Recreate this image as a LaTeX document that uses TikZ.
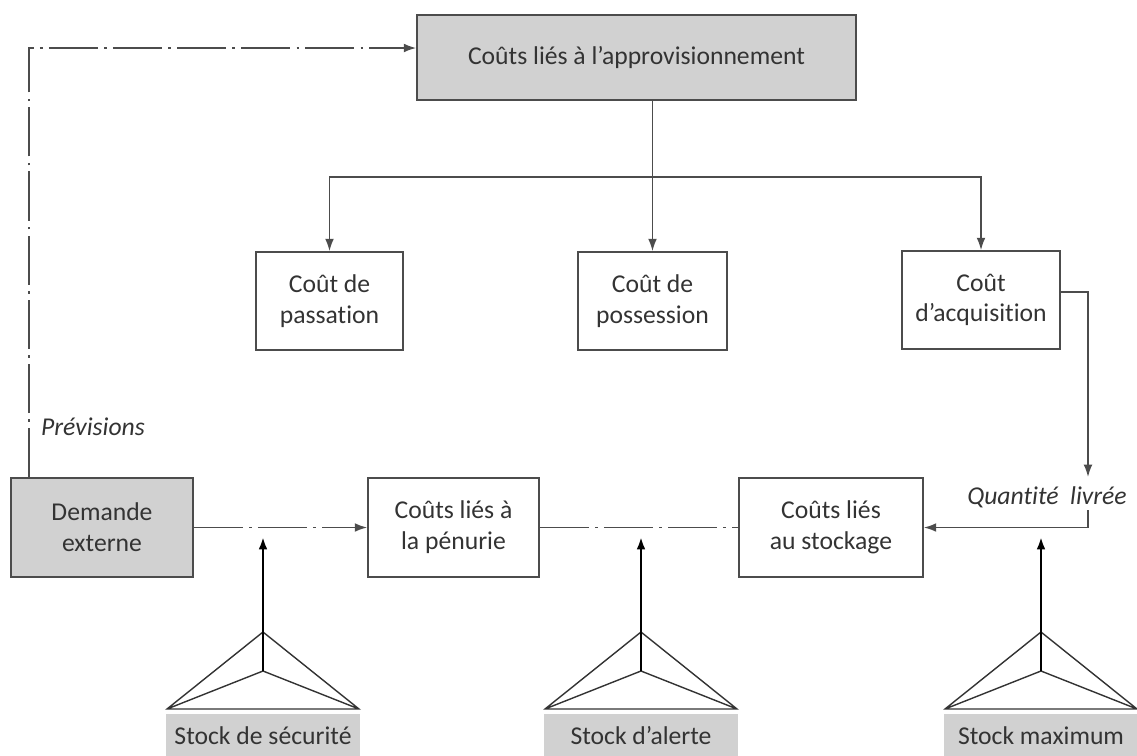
\documentclass[tikz,border=0pt]{standalone}
\usepackage{fontspec}
\setmainfont[Ligatures={TeX,NoCommon}]{Carlito}
\usetikzlibrary{arrows.meta}
\definecolor{linegray}{rgb}{0.3,0.3,0.3}
\definecolor{boxgray}{rgb}{0.82,0.82,0.82}
\definecolor{textgray}{rgb}{0.2,0.2,0.2}

\begin{document}
\begin{tikzpicture}[x=0.02cm,y=-0.02cm,>={Latex[length=7pt,width=5pt]},
  font=\fontsize{14.6}{17.5}\selectfont,
  box/.style={draw=linegray,line width=1pt,align=center,text=textgray,
    minimum height=1.96cm,inner sep=2pt},
  shaded/.style={box,fill=boxgray},
  tag/.style={fill=boxgray,text=textgray,minimum width=3.9cm,minimum height=0.88cm,inner sep=2pt},
  link/.style={draw=linegray,line width=0.9pt},
  dashflow/.style={link,dash pattern=on 28pt off 3.5pt on 1.5pt off 3.5pt},
  tri/.style={draw=black!80,line width=0.8pt,line join=miter},
  stockarrow/.style={draw=black,line width=1.4pt}]
\useasboundingbox (0,0) rectangle (1137,755);

% boxes
\node[shaded,minimum width=8.78cm,minimum height=1.7cm] (appro) at (636.5,57.5)
  {Coûts liés à l’approvisionnement};
\node[box,minimum width=2.94cm] (pass) at (329.5,301) {Coût de\\passation};
\node[box,minimum width=2.98cm] (poss) at (652.5,301) {Coût de\\possession};
\node[box,minimum width=3.16cm] (acq) at (981,300) {Coût\\d’acquisition};
\node[shaded,minimum width=3.64cm,minimum height=1.98cm] (dem) at (102,527.5)
  {Demande\\externe};
\node[box,minimum width=3.42cm,minimum height=1.98cm] (pen) at (453.5,527.5)
  {Coûts liés à\\la pénurie};
\node[box,minimum width=3.68cm,minimum height=1.98cm] (sto) at (831,527.5)
  {Coûts liés\\au stockage};

% labels
\node[text=textgray,font=\fontsize{14.6}{17.5}\selectfont\itshape] (prev) at (93,427) {Prévisions};
\node[text=textgray,font=\fontsize{14.6}{17.5}\selectfont\itshape] (qte) at (1047,497) {Quantité\ \ livrée};

% tree
\coordinate (split) at (652.5,177);
\draw[link,->] (appro.south -| split) -- (poss.north);
\draw[link,->] (split) -| (pass.north);
\draw[link,->] (split) -| (acq.north);

% quantity delivered
\coordinate (qin) at (1088,477);
\coordinate (qout) at (1088,510);
\draw[link,->] ([yshift=0.16cm]acq.east) -| (qin);
\draw[link,->] (qout) |- (sto.east);

% forecasts
\coordinate (fc) at (29,48);
\draw[dashflow,->] (dem.north -| fc) -- (fc) -- (fc -| appro.west);
\draw[dashflow,->] (dem.east) -- (pen.west);
\draw[dashflow] (pen.east) -- (sto.west);

% stock levels
\foreach \x/\n/\t in {263/secu/{Stock de sécurité},641/alerte/{Stock d’alerte},1041/maxi/{Stock maximum}}{
  \node[tag] (\n) at (\x,736) {\t};
  \coordinate (\n-top) at (\x,632);
  \coordinate (\n-mid) at (\x,671);
  \coordinate (\n-l) at (\x-96,709);
  \coordinate (\n-r) at (\x+96,709);
  \coordinate (\n-tip) at (\x,537);
  \draw[tri] (\n-l) -- (\n-top) -- (\n-r) -- cycle (\n-l) -- (\n-mid) -- (\n-r);
  \draw[stockarrow,->] (\n-mid) -- (\n-tip);
}
\end{tikzpicture}
\end{document}
